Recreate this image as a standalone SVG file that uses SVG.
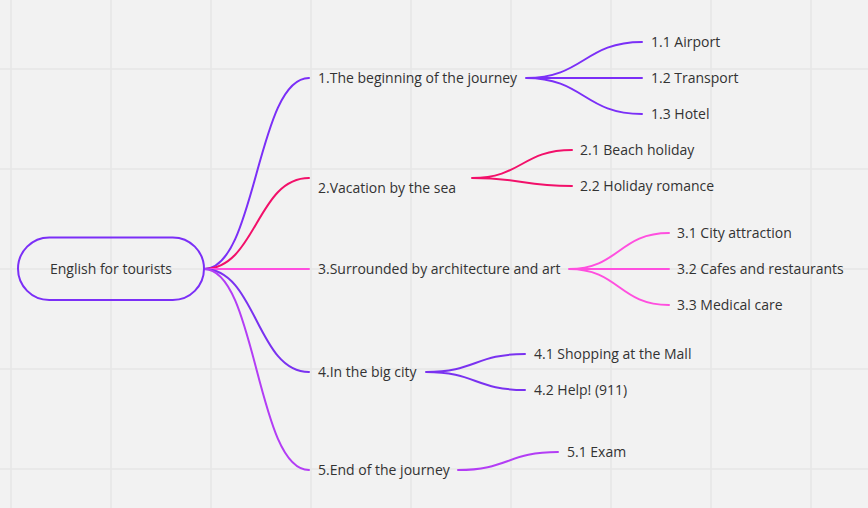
<svg xmlns="http://www.w3.org/2000/svg" width="868" height="508" viewBox="0 0 868 508">
<style>
.grid{stroke:#e6e6e6;stroke-width:1.5}
.c{fill:none;stroke-width:2;stroke-linecap:round}
.t{font-family:"Open Sans","Liberation Sans",sans-serif;font-size:14px;fill:#333}
</style>
<rect width="868" height="508" fill="#f2f2f2"/>
<g id="grid">
<path class="grid" d="M11 0V508M111 0V508M211 0V508M311 0V508M411 0V508M511 0V508M611 0V508M711 0V508M811 0V508M0 69H868M0 169H868M0 269H868M0 369H868M0 469H868"/>
</g>
<g id="connectors">
<path class="c" stroke="#7b2ff7" d="M204 269C256.5 269 256.5 78 309 78"/>
<path class="c" stroke="#f2106a" d="M204 269C256.5 269 256.5 178 309 178"/>
<path class="c" stroke="#ff4fdf" d="M204 269H309"/>
<path class="c" stroke="#7a32f0" d="M204 269C256.5 269 256.5 372 309 372"/>
<path class="c" stroke="#b33df5" d="M204 269C256.5 269 256.5 470 309 470"/>
<path class="c" stroke="#7b2ff7" d="M526 78C584 78 584 42 642 42M526 78H642M526 78C584 78 584 114 642 114"/>
<path class="c" stroke="#f2106a" d="M472 178C522 178 522 150 572 150M472 178C522 178 522 186 572 186"/>
<path class="c" stroke="#ff4fdf" d="M569 269C619 269 619 233 669 233M569 269H669M569 269C619 269 619 305 669 305"/>
<path class="c" stroke="#7a32f0" d="M426 372C475.5 372 475.5 354 525 354M426 372C475.5 372 475.5 390 525 390"/>
<path class="c" stroke="#b33df5" d="M458 470C508 470 508 452 558 452"/>
</g>
<g id="root">
<rect x="18" y="237.5" width="186" height="62.5" rx="31.25" fill="none" stroke="#7b2ff7" stroke-width="2"/>
<text class="t" x="111" y="274" text-anchor="middle">English for tourists</text>
</g>
<g id="n1"><text class="t" x="318" y="83">1.The beginning of the journey</text></g>
<g id="n1-1"><text class="t" x="651" y="47">1.1 Airport</text></g>
<g id="n1-2"><text class="t" x="651" y="83">1.2 Transport</text></g>
<g id="n1-3"><text class="t" x="651" y="119">1.3 Hotel</text></g>
<g id="n2"><text class="t" x="318" y="193">2.Vacation by the sea</text></g>
<g id="n2-1"><text class="t" x="580" y="155">2.1 Beach holiday</text></g>
<g id="n2-2"><text class="t" x="580" y="191">2.2 Holiday romance</text></g>
<g id="n3"><text class="t" x="318" y="274">3.Surrounded by architecture and art</text></g>
<g id="n3-1"><text class="t" x="677" y="238">3.1 City attraction</text></g>
<g id="n3-2"><text class="t" x="677" y="274">3.2 Cafes and restaurants</text></g>
<g id="n3-3"><text class="t" x="677" y="310">3.3 Medical care</text></g>
<g id="n4"><text class="t" x="318" y="377">4.In the big city</text></g>
<g id="n4-1"><text class="t" x="534" y="359">4.1 Shopping at the Mall</text></g>
<g id="n4-2"><text class="t" x="534" y="395">4.2 Help! (911)</text></g>
<g id="n5"><text class="t" x="318" y="475">5.End of the journey</text></g>
<g id="n5-1"><text class="t" x="567" y="457">5.1 Exam</text></g>
</svg>
